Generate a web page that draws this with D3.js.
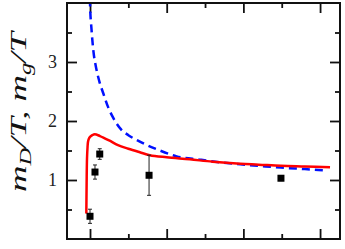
<!DOCTYPE html>
<html>
<head>
<meta charset="utf-8">
<script src="https://cdn.jsdelivr.net/npm/d3@7"></script>
<style>
body { margin: 0; background: #fff; }
svg text { font-family: "Liberation Serif", "DejaVu Serif", serif; }
</style>
</head>
<body>
<div id="chart"></div>
<script>
// lattice points with errors
var pointT = [1.0, 1.065, 1.127, 1.77, 3.49];
var pointVal = [0.385, 1.135, 1.44, 1.08, 1.03];
var pointErr = [0.12, 0.12, 0.09, 0.34, 0.04];

// red solid curve
var redT = [0.952, 0.956, 0.961, 0.968, 0.974, 0.985, 1.0, 1.03, 1.061, 1.13, 1.25, 1.365, 1.5, 1.65, 1.78, 2.0, 2.3, 2.6, 2.96, 3.2, 3.49, 3.8, 4.13];
var redVal = [0.43, 0.95, 1.37, 1.56, 1.65, 1.70, 1.73, 1.76, 1.775, 1.745, 1.67, 1.59, 1.53, 1.47, 1.42, 1.385, 1.35, 1.31, 1.275, 1.26, 1.24, 1.228, 1.215];

// blue dashed curve
var blueT = [0.995, 1.0, 1.02, 1.043, 1.08, 1.12, 1.173, 1.235, 1.3, 1.41, 1.5, 1.65, 1.91, 2.13, 2.43, 2.7, 2.96, 3.2, 3.49, 3.8, 4.09];
var blueVal = [4.3, 4.0, 3.55, 3.2, 2.9, 2.68, 2.47, 2.24, 2.06, 1.85, 1.76, 1.65, 1.50, 1.40, 1.345, 1.30, 1.265, 1.24, 1.21, 1.185, 1.16];

var yMajor = [1, 2, 3];
var yMinor = [0.5, 1.5, 2.5, 3.5];
var xMajor = [1, 2, 3, 4];
var xMinor = [1.5, 2.5, 3.5];

var W = 345, H = 249;
var margin = { left: 67, right: 5, top: 3, bottom: 10 };
var width = W - margin.left - margin.right;
var height = H - margin.top - margin.bottom;

var svg = d3.select("#chart").append("svg")
    .attr("width", W)
    .attr("height", H);

var g = svg.append("g")
    .attr("transform", "translate(" + margin.left + "," + margin.top + ")");

var x = d3.scaleLinear().domain([0.7, 4.26]).range([0, width]);
var y = d3.scaleLinear().domain([0, 4]).range([height, 0]);

svg.append("defs").append("clipPath").attr("id", "clip")
    .append("rect").attr("width", width).attr("height", height);

// ticks on all four sides, pointing inward
function tickAxis(axis, vals, len, tr) {
    g.append("g")
        .attr("transform", tr)
        .call(axis.tickValues(vals).tickSize(-len).tickFormat(""))
        .call(a => a.select(".domain").remove())
        .selectAll("line").attr("stroke", "#111").attr("stroke-width", 1.8);
}
tickAxis(d3.axisLeft(y), yMajor, 10, null);
tickAxis(d3.axisLeft(y), yMinor, 5, null);
tickAxis(d3.axisRight(y), yMajor, 10, "translate(" + width + ",0)");
tickAxis(d3.axisRight(y), yMinor, 5, "translate(" + width + ",0)");
tickAxis(d3.axisBottom(x), xMajor, 10, "translate(0," + height + ")");
tickAxis(d3.axisBottom(x), xMinor, 5, "translate(0," + height + ")");
tickAxis(d3.axisTop(x), xMajor, 10, null);
tickAxis(d3.axisTop(x), xMinor, 5, null);

// y labels
g.selectAll(".ylab")
    .data(yMajor)
    .enter().append("text")
    .attr("x", -10)
    .attr("y", d => y(d))
    .attr("dy", "0.35em")
    .attr("text-anchor", "end")
    .attr("font-size", "18px")
    .attr("fill", "#222")
    .text(d => d);

// y axis title
var title = svg.append("text")
    .attr("transform", "translate(26,112) rotate(-90)")
    .attr("text-anchor", "middle")
    .attr("font-size", "24px")
    .attr("font-style", "italic")
    .attr("textLength", 160)
    .attr("lengthAdjust", "spacingAndGlyphs")
    .attr("fill", "#111");
title.append("tspan").text("m");
title.append("tspan").attr("font-size", "16px").attr("dy", 5).text("D");
title.append("tspan").attr("dy", -5).text("/T, m");
title.append("tspan").attr("font-size", "16px").attr("dy", 5).text("g");
title.append("tspan").attr("dy", -5).text("/T");

var plot = g.append("g").attr("clip-path", "url(#clip)");

var line = d3.line()
    .x(d => x(d[0]))
    .y(d => y(d[1]))
    .curve(d3.curveMonotoneX);

plot.append("path")
    .datum(blueT.map((t, i) => [t, blueVal[i]]))
    .attr("fill", "none")
    .attr("stroke", "#0010ff")
    .attr("stroke-width", 2.5)
    .attr("stroke-dasharray", "8,5")
    .attr("d", line);

plot.append("path")
    .datum(redT.map((t, i) => [t, redVal[i]]))
    .attr("fill", "none")
    .attr("stroke", "#ff0000")
    .attr("stroke-width", 2.5)
    .attr("d", d3.line().x(d => x(d[0])).y(d => y(d[1])).curve(d3.curveCatmullRom));

// error bars and squares
var pts = plot.selectAll(".pt")
    .data(pointT.map((t, i) => ({ t: t, v: pointVal[i], e: pointErr[i] })))
    .enter().append("g");

pts.append("line")
    .attr("x1", d => x(d.t)).attr("x2", d => x(d.t))
    .attr("y1", d => y(d.v - d.e)).attr("y2", d => y(d.v + d.e))
    .attr("stroke", "#222").attr("stroke-width", 1);
pts.append("line")
    .attr("x1", d => x(d.t) - 2).attr("x2", d => x(d.t) + 2)
    .attr("y1", d => y(d.v - d.e)).attr("y2", d => y(d.v - d.e))
    .attr("stroke", "#222").attr("stroke-width", 1);
pts.append("line")
    .attr("x1", d => x(d.t) - 2).attr("x2", d => x(d.t) + 2)
    .attr("y1", d => y(d.v + d.e)).attr("y2", d => y(d.v + d.e))
    .attr("stroke", "#222").attr("stroke-width", 1);
pts.append("rect")
    .attr("x", d => x(d.t) - 3.5)
    .attr("y", d => y(d.v) - 3.5)
    .attr("width", 7).attr("height", 7)
    .attr("fill", "#000");

// frame
g.append("rect")
    .attr("width", width).attr("height", height)
    .attr("fill", "none")
    .attr("stroke", "#111")
    .attr("stroke-width", 2);
</script>
</body>
</html>
